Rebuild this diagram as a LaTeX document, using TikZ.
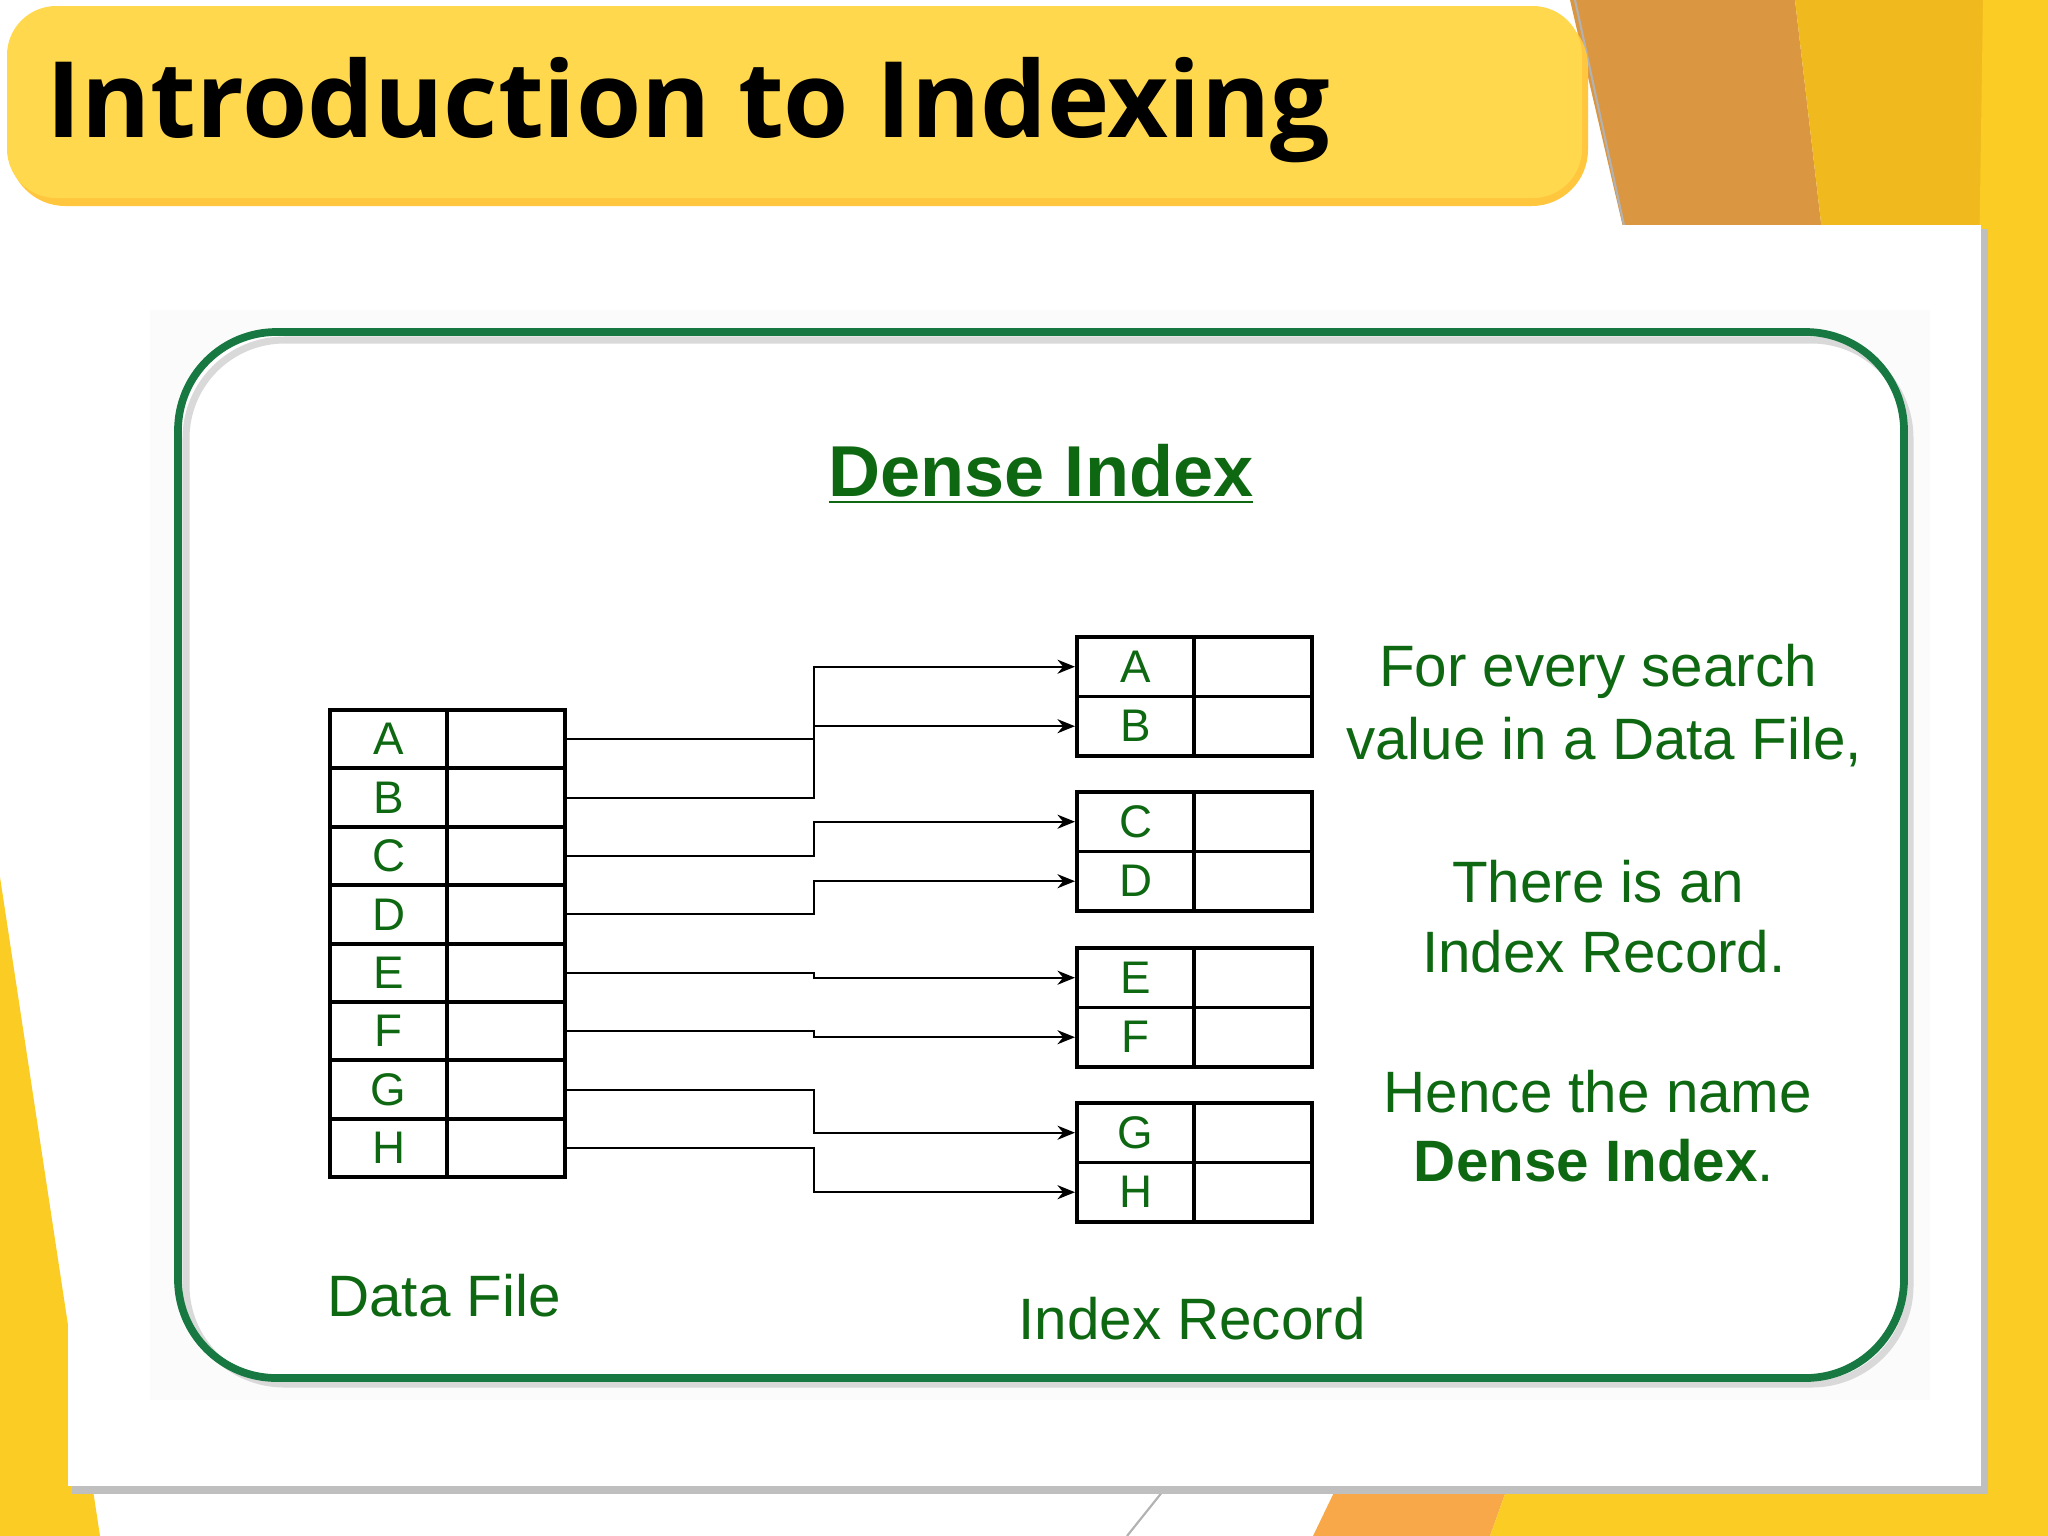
\documentclass[tikz,border=0pt]{standalone}
\usepackage{fontspec}
\setmainfont{Liberation Sans}
\newfontfamily\titlefont{Open Sans}
\usetikzlibrary{arrows.meta}
\definecolor{txtgreen}{RGB}{14,104,18}
\definecolor{boxgreen}{RGB}{24,120,66}
\definecolor{ttlyellow}{RGB}{255,216,77}
\definecolor{orng}{RGB}{219,150,66}
\definecolor{yel1}{RGB}{240,186,30}
\definecolor{yel2}{RGB}{250,204,36}
\definecolor{orng2}{RGB}{248,168,72}
\tikzset{
  cell/.style={draw=black,line width=1.1pt,minimum width=1.175cm,minimum height=0.584cm,inner sep=0pt,font=\fontsize{13}{14}\selectfont,text=txtgreen},
  icell/.style={draw=black,line width=1.1pt,minimum width=1.175cm,minimum height=0.595cm,inner sep=0pt,font=\fontsize{13}{14}\selectfont,text=txtgreen},
  ecell/.style={draw=black,line width=1.1pt,minimum width=1.18cm,inner sep=0pt},
  conn/.style={draw=black,line width=0.6pt,-{Stealth[length=5pt,width=4pt]}},
  body/.style={text=txtgreen,font=\fontsize{16.6}{19}\selectfont,inner sep=0pt}
}
\begin{document}
\begin{tikzpicture}[x=0.01cm,y=-0.01cm]
\useasboundingbox (0,0) rectangle (2048,1536);
\fill[white] (0,0) rectangle (2048,1536);
% background shapes
\fill[orng] (1570,0) -- (1795,0) -- (1830,300) -- (1640,300) -- cycle;
\fill[yel1] (1795,0) -- (1990,0) -- (1990,300) -- (1830,300) -- cycle;
\fill[yel2] (1983,0) -- (2048,0) -- (2048,1536) -- (1960,1536) -- cycle;
\draw[gray!60,line width=0.6pt] (1575,0) -- (1625,230);
\fill[yel2] (0,877) -- (100,1536) -- (0,1536) -- cycle;
\fill[orng2] (1340,1480) -- (1510,1480) -- (1490,1536) -- (1313,1536) -- cycle;
\fill[yel2] (1510,1480) -- (1990,1480) -- (1990,1536) -- (1490,1536) -- cycle;
\draw[gray!60,line width=0.6pt] (1167,1486) -- (1127,1536);
% panel
\fill[black!25] (72,229) rectangle (1988,1494);
\fill[white] (68,225) rectangle (1981,1486);
\fill[black!1.5] (150,310) rectangle (1930,1400);
% title box
\fill[ttlyellow!80!orange,rounded corners=16pt] (9,10) rectangle (1588,206);
\fill[ttlyellow,rounded corners=14pt] (7,6) rectangle (1582,198);
\node[anchor=base west,inner sep=0pt,font=\titlefont\bfseries\fontsize{30}{33}\selectfont] (title) at (46,137) {Introduction to Indexing};
% green frame
\fill[white,rounded corners=28pt] (178,332) rectangle (1904,1378);
\draw[black!15,line width=2pt,rounded corners=28pt] (186,340) rectangle (1910,1384);
\draw[boxgreen,line width=2.2pt,rounded corners=28pt] (178,332) rectangle (1904,1378);
\node[text=txtgreen,font=\bfseries\fontsize{20.5}{24}\selectfont,inner sep=0pt] (dtitle) at (1041,474) {\underline{Dense Index}};
% data file
\foreach \l [count=\i] in {A,B,C,D,E,F,G,H}{
  \node[cell,anchor=north west] (d\l) at (328,{708+(\i-1)*58.4}) {\l};
  \node[ecell,minimum height=0.584cm,anchor=north west] (de\l) at (445,{708+(\i-1)*58.4}) {};
}
% index records
\foreach \l/\y in {A/635,B/694.5,C/790,D/849.5,E/946,F/1005.5,G/1101,H/1160.5}{
  \node[icell,anchor=north west] (i\l) at (1075,\y) {\l};
  \node[ecell,minimum height=0.595cm,anchor=north west] (ie\l) at (1192,\y) {};
}
% connectors
\foreach \l in {A,B,C,D,E,F,G,H}{
  \draw[conn] (de\l.east) -| (814,0 |- i\l.west) -- (i\l.west);
}
% right text
\node[body] (t1) at (1598,671) {For every search};
\node[body] (t2) at (1604,742) {value in a Data File,};
\node[body] (t3) at (1598,882) {There is an};
\node[body] (t4) at (1604,952) {Index Record.};
\node[body] (t5) at (1598,1092) {Hence the name};
\node[body] (t6) at (1594,1161) {\textbf{Dense Index}.};
\node[body] (df) at (444,1296) {Data File};
\node[body] (ir) at (1192,1319) {Index Record};
\end{tikzpicture}
\end{document}
